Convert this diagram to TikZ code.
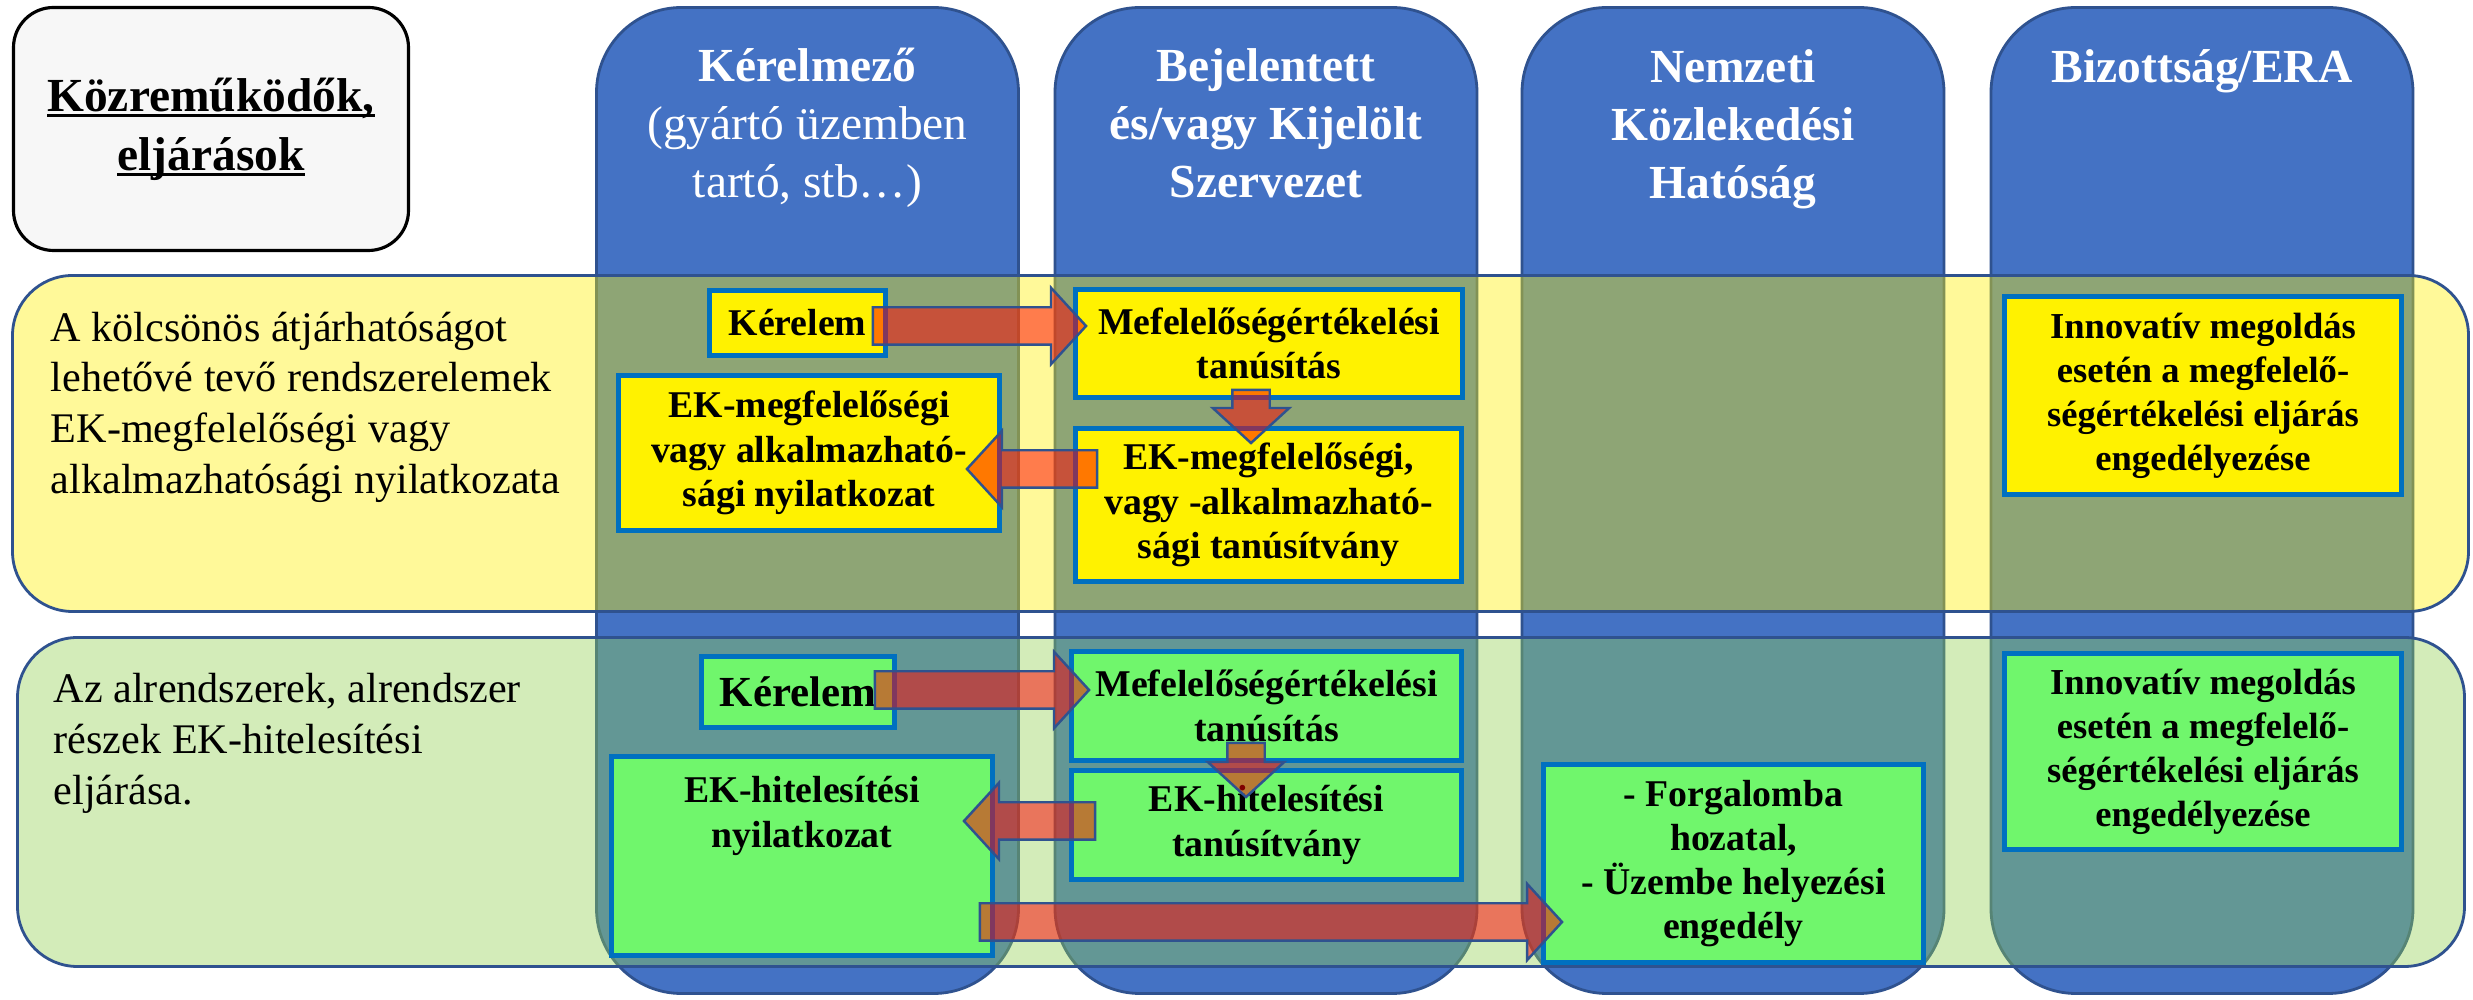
\documentclass[tikz,border=0pt]{standalone}
\usepackage{fontspec}
\setmainfont{Liberation Serif}
\usetikzlibrary{positioning,calc,shapes.arrows}

\definecolor{laneblue}{RGB}{68,114,196}
\definecolor{laneedge}{RGB}{47,82,143}
\definecolor{boxedge}{RGB}{0,112,192}
\definecolor{boxgreen}{RGB}{112,246,108}
\definecolor{bandgreen}{RGB}{146,208,80}

% underline at a fixed depth, as in the slide
\newcommand{\ulbar}[1]{\setbox0\hbox{#1}\rlap{\rule[-1.7pt]{\wd0}{0.9pt}}\box0}

\begin{document}
\begin{tikzpicture}[
lane/.style={
  draw=laneedge,
  fill=laneblue,
  line width=0.8pt,
  rounded corners=0.85cm,
  minimum width=4.22cm,
  minimum height=9.86cm,
  },
head/.style={
  text=white,
  align=center,
  anchor=base,
  inner sep=0pt,
  font=\fontsize{13.5}{16.4}\selectfont\bfseries,
  },
band/.style={
  draw=laneedge,
  line width=0.8pt,
  fill opacity=0.4,
  rounded corners=0.6cm,
  },
rowtext/.style={
  align=left,
  anchor=base west,
  inner sep=0pt,
  font=\fontsize{12}{14.4}\selectfont,
  },
boxtext/.style={
  align=center,
  inner sep=0pt,
  font=\fontsize{10.75}{12.6}\selectfont\bfseries,
  },
box/.style={
  boxtext,
  draw=boxedge,
  line width=1.4pt,
  fill=yellow,
  },
gbox/.style={
  box,
  fill=boxgreen,
  },
innov/.style={
  font=\fontsize{10.4}{12.5}\selectfont\bfseries,
  },
flow/.style={
  single arrow,
  draw=laneedge,
  line width=0.7pt,
  fill=red,
  fill opacity=0.5,
  single arrow head extend=0.195cm,
  single arrow tip angle=95,
  inner xsep=0pt,
  inner ysep=0.175cm,
  outer sep=0pt,
  },
>=latex
]
\path[use as bounding box, fill=white] (0,0) rectangle (24.73,-10);

% swimlanes
\foreach \c/\x in {1/8.075,2/12.66,3/17.33,4/22.02}
  \node[lane] (c\c) at (\x,-5.005) {};

\node[head] (h1) at ($(c1.north)+(0,-1.91)$) {Kérelmező\\\mdseries(gyártó üzemben\\\mdseries tartó, stb…)};
\node[head] (h2) at ($(c2.north)+(0,-1.91)$) {Bejelentett\\és/vagy Kijelölt\\Szervezet};
\node[head] (h3) at ($(c3.north)+(0,-1.92)$) {Nemzeti\\Közlekedési\\Hatóság};
\node[head] (h4) at ($(c4.north)+(0,-0.76)$) {Bizottság/ERA};

% procedure rows
\node[band, fill=yellow, minimum width=24.56cm, minimum height=3.36cm] (row1) at (12.405,-4.435) {};
\node[band, fill=bandgreen, minimum width=24.47cm, minimum height=3.29cm] (row2) at (12.41,-8.02) {};

\node[draw=black, line width=0.9pt, fill=black!3, rounded corners=0.4cm,
  minimum width=3.95cm, minimum height=2.43cm, align=center,
  font=\fontsize{13.5}{16.8}\selectfont\bfseries] (actors) at (2.11,-1.29)
  {\ulbar{Közreműködők,}\\\ulbar{eljárások}};

\node[rowtext] (r1) at ($(row1.north west)+(0.39,-2.19)$) {A kölcsönös átjárhatóságot\\lehetővé tevő rendszerelemek\\EK-megfelelőségi vagy\\alkalmazhatósági nyilatkozata};
\node[rowtext] (r2) at ($(row2.north west)+(0.37,-1.68)$) {Az alrendszerek, alrendszer\\részek EK-hitelesítési\\eljárása.};

% first row
\node[box, minimum width=1.76cm, minimum height=0.65cm] (k1) at (7.975,-3.23) {Kérelem};
\node[box, minimum width=3.87cm, minimum height=1.08cm] (m1) at (12.69,-3.435) {Mefelelőségértékelési\\tanúsítás};
\node[box, minimum width=3.81cm, minimum height=1.55cm] (n1) at (8.09,-4.53) {EK-megfelelőségi\\vagy alkalmazható-\\sági nyilatkozat};
\node[box, minimum width=3.86cm, minimum height=1.53cm] (t1) at (12.685,-5.05) {EK-megfelelőségi,\\vagy -alkalmazható-\\sági tanúsítvány};
\node[box, innov, minimum width=3.97cm, minimum height=1.98cm] (i1) at (22.03,-3.955) {Innovatív megoldás\\esetén a megfelelő-\\ségértékelési eljárás\\engedélyezése};

% second row
\node[gbox, font=\fontsize{12.2}{14}\selectfont\bfseries, minimum width=1.93cm, minimum height=0.71cm] (k2) at (7.98,-6.92) {Kérelem};
\node[gbox, minimum width=3.9cm, minimum height=1.09cm] (m2) at (12.665,-7.06) {Mefelelőségértékelési\\tanúsítás};
\node[gbox, minimum width=3.9cm, minimum height=1.09cm] (t2) at (12.665,-8.25) {EK-hitelesítési\\tanúsítvány};
\node[gbox, minimum width=3.81cm, minimum height=1.99cm] (n2) at (8.02,-8.56) {};
\node[boxtext, below=0.22cm of n2.north] (n2txt) {EK-hitelesítési\\nyilatkozat};
\node[gbox, minimum width=3.8cm, minimum height=1.98cm] (f2) at (17.335,-8.635) {- Forgalomba\\hozatal,\\- Üzembe helyezési\\engedély};
\node[gbox, innov, minimum width=3.97cm, minimum height=1.96cm] (i2) at (22.03,-7.515) {Innovatív megoldás\\esetén a megfelelő-\\ségértékelési eljárás\\engedélyezése};

% block arrows
\coordinate (from1) at ($(k1.east)+(-0.15,-0.03)$);
\coordinate (to1) at ($(m1.west)+(0.13,0.175)$);
\coordinate (from2) at ($(m1.south)+(-0.18,0.10)$);
\coordinate (to2) at ($(t1.north)+(-0.175,-0.17)$);
\coordinate (from3) at ($(t1.west)+(0.24,0.36)$);
\coordinate (to3) at ($(n1.east)+(-0.35,-0.16)$);
\coordinate (from4) at ($(k2.east)+(-0.22,0.02)$);
\coordinate (to4) at ($(m2.west)+(0.20,0.16)$);
\coordinate (from5) at ($(m2.south)+(-0.205,0.20)$);
\coordinate (to5) at ($(t2.north)+(-0.205,-0.29)$);
\coordinate (from6) at ($(t2.west)+(0.26,0.04)$);
\coordinate (to6) at ($(n2.east)+(-0.31,0.35)$);
\coordinate (from7) at ($(n2.east)+(-0.15,-0.66)$);
\coordinate (to7) at ($(f2.west)+(0.21,-0.585)$);
\foreach \a in {1,...,7}
  \path let \p1=(from\a), \p2=(to\a),
    \n1={veclen(\x2-\x1,\y2-\y1)}, \n2={atan2(\y2-\y1,\x2-\x1)} in
    node[flow, minimum height=\n1, rotate=\n2, anchor=tail] (arr\a) at (\p1) {};

\end{tikzpicture}
\end{document}
